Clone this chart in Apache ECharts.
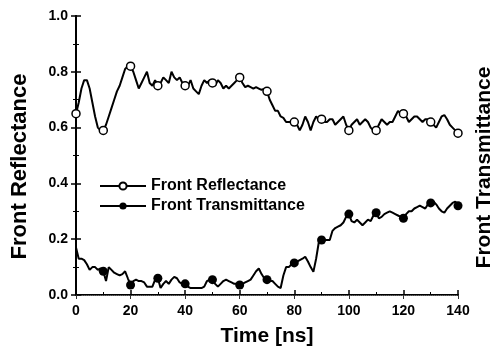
<!DOCTYPE html>
<html>
<head>
<meta charset="utf-8">
<script src="https://cdn.jsdelivr.net/npm/echarts@6/dist/echarts.min.js"></script>
<style>
  html, body { margin: 0; padding: 0; background: #fff; }
  #chart { width: 493px; height: 358px; }
</style>
</head>
<body>
<div id="chart"></div>
<script>
// time samples, 1 ns apart (0..140)
const times = Array.from({ length: 141 }, (_, i) => i);

const reflectance = [
  0.65, 0.69, 0.74, 0.77, 0.77, 0.74, 0.69, 0.64, 0.60, 0.59,
  0.59, 0.61, 0.64, 0.67, 0.70, 0.73, 0.75, 0.78, 0.81, 0.82,
  0.82, 0.80, 0.77, 0.74, 0.76, 0.78, 0.80, 0.76, 0.75, 0.77,
  0.75, 0.76, 0.78, 0.77, 0.76, 0.80, 0.78, 0.77, 0.78, 0.76,
  0.75, 0.75, 0.77, 0.74, 0.73, 0.72, 0.75, 0.77, 0.76, 0.77,
  0.76, 0.75, 0.77, 0.76, 0.74, 0.75, 0.74, 0.75, 0.76, 0.77,
  0.78, 0.76, 0.745, 0.75, 0.745, 0.74, 0.745, 0.74, 0.735, 0.74,
  0.73, 0.70, 0.68, 0.66, 0.66, 0.64, 0.635, 0.62, 0.62, 0.62,
  0.62, 0.61, 0.59, 0.61, 0.64, 0.62, 0.59, 0.62, 0.64, 0.63,
  0.63, 0.62, 0.62, 0.63, 0.63, 0.61, 0.62, 0.63, 0.64, 0.61,
  0.59, 0.61, 0.62, 0.63, 0.61, 0.62, 0.63, 0.62, 0.60, 0.59,
  0.59, 0.61, 0.63, 0.62, 0.61, 0.62, 0.62, 0.64, 0.66, 0.65,
  0.65, 0.64, 0.62, 0.63, 0.64, 0.64, 0.63, 0.62, 0.63, 0.63,
  0.62, 0.61, 0.60, 0.62, 0.64, 0.645, 0.63, 0.61, 0.60, 0.59,
  0.58
];

const transmittance = [
  0.17, 0.13, 0.13, 0.125, 0.11, 0.09, 0.10, 0.10, 0.09, 0.095,
  0.085, 0.05, 0.10, 0.09, 0.08, 0.075, 0.07, 0.075, 0.085, 0.06,
  0.036, 0.05, 0.055, 0.05, 0.05, 0.045, 0.03, 0.03, 0.03, 0.055,
  0.06, 0.025, 0.04, 0.05, 0.04, 0.055, 0.065, 0.06, 0.045, 0.04,
  0.04, 0.03, 0.025, 0.025, 0.025, 0.025, 0.025, 0.03, 0.05, 0.055,
  0.055, 0.04, 0.03, 0.04, 0.05, 0.055, 0.05, 0.045, 0.04, 0.04,
  0.036, 0.04, 0.045, 0.05, 0.055, 0.07, 0.085, 0.095, 0.075, 0.06,
  0.055, 0.05, 0.05, 0.04, 0.03, 0.025, 0.07, 0.10, 0.10, 0.11,
  0.115, 0.12, 0.125, 0.13, 0.137, 0.12, 0.10, 0.083, 0.13, 0.19,
  0.197, 0.197, 0.197, 0.197, 0.23, 0.24, 0.245, 0.25, 0.26, 0.28,
  0.29, 0.265, 0.26, 0.27, 0.26, 0.25, 0.26, 0.27, 0.265, 0.285,
  0.295, 0.275, 0.28, 0.29, 0.295, 0.30, 0.295, 0.29, 0.285, 0.28,
  0.275, 0.29, 0.30, 0.30, 0.31, 0.315, 0.32, 0.315, 0.31, 0.325,
  0.33, 0.335, 0.325, 0.31, 0.30, 0.295, 0.31, 0.32, 0.33, 0.335,
  0.32
];

// markers every 10 ns
const reflMarkTimes = [0, 10, 20, 30, 40, 50, 60, 70, 80, 90, 100, 110, 120, 130, 140];
const transMarkTimes = [10, 20, 30, 40, 50, 60, 70, 80, 90, 100, 110, 120, 130, 140];

const font = "Liberation Sans, Arial, sans-serif";

function buildData(values, marks) {
  return times.map((t, i) => ({
    value: [t, values[i]],
    symbol: marks.includes(t) ? "circle" : "none",
  }));
}

const chart = echarts.init(document.getElementById("chart"));

const option = {
  animation: false,
  backgroundColor: "#fff",
  grid: { left: 76, right: 35, top: 16, bottom: 63, outerBoundsMode: "none" },
  legend: {
    orient: "vertical",
    left: 94,
    top: 173,
    itemWidth: 46,
    itemHeight: 9,
    itemGap: 4,
    textStyle: { color: "#000", fontFamily: font, fontWeight: "bold", fontSize: 16 },
    data: ["Front Reflectance", "Front Transmittance"],
  },
  xAxis: [
    {
      type: "value",
      min: 0,
      max: 140,
      interval: 20,
      name: "Time [ns]",
      nameLocation: "middle",
      nameGap: 31,
      nameTextStyle: { color: "#000", fontFamily: font, fontWeight: "bold", fontSize: 21 },
      axisLine: { lineStyle: { color: "#000", width: 2 } },
      axisTick: { inside: true, length: 5, lineStyle: { color: "#000", width: 1.5 } },
      minorTick: { show: true, splitNumber: 2, length: 3, lineStyle: { color: "#000" } },
      axisLabel: { color: "#000", fontFamily: font, fontWeight: "bold", fontSize: 14, margin: 9 },
      splitLine: { show: false },
    },
    {
      type: "value",
      position: "top",
      min: 0,
      max: 140,
      interval: 20,
      axisLine: { lineStyle: { color: "#666", width: 1, type: "dotted" } },
      axisTick: { inside: true, length: 4, lineStyle: { color: "#333" } },
      axisLabel: { show: false },
      splitLine: { show: false },
    },
  ],
  yAxis: [
    {
      type: "value",
      min: 0,
      max: 1,
      interval: 0.2,
      name: "Front Reflectance",
      nameLocation: "middle",
      nameGap: 45,
      nameTextStyle: {
        color: "#000", fontFamily: font, fontWeight: "bold", fontSize: 22,
        padding: [0, 22, 0, 0],
      },
      axisLine: { show: true, lineStyle: { color: "#000", width: 2 } },
      axisTick: { show: true, inside: true, length: 5, lineStyle: { color: "#000", width: 1.5 } },
      minorTick: { show: true, splitNumber: 2, length: 3, lineStyle: { color: "#000" } },
      axisLabel: {
        color: "#000", fontFamily: font, fontWeight: "bold", fontSize: 14, margin: 8,
        formatter: (v) => v.toFixed(1),
      },
      splitLine: { show: false },
    },
    {
      type: "value",
      position: "right",
      min: 0,
      max: 1,
      interval: 0.2,
      name: "Front Transmittance",
      nameLocation: "middle",
      nameGap: 16,
      nameRotate: 90,
      nameTextStyle: {
        color: "#000", fontFamily: font, fontWeight: "bold", fontSize: 21,
        padding: [0, 24, 0, 0],
      },
      axisLine: { show: true, lineStyle: { color: "#000", width: 2 } },
      axisTick: { show: true, inside: true, length: 5, lineStyle: { color: "#000", width: 1.5 } },
      minorTick: { show: true, splitNumber: 2, length: 3, lineStyle: { color: "#000" } },
      axisLabel: { show: false },
      splitLine: { show: false },
    },
  ],
  series: [
    {
      name: "Front Reflectance",
      type: "line",
      symbol: "circle",
      symbolSize: 8,
      showAllSymbol: true,
      lineStyle: { color: "#000", width: 2 },
      itemStyle: { color: "#fff", borderColor: "#000", borderWidth: 1.5 },
      data: buildData(reflectance, reflMarkTimes),
      z: 3,
    },
    {
      name: "Front Transmittance",
      type: "line",
      symbol: "circle",
      symbolSize: 9,
      showAllSymbol: true,
      lineStyle: { color: "#000", width: 2 },
      itemStyle: { color: "#000" },
      data: buildData(transmittance, transMarkTimes),
      z: 3,
    },
  ],
};

chart.setOption(option);
</script>
</body>
</html>
